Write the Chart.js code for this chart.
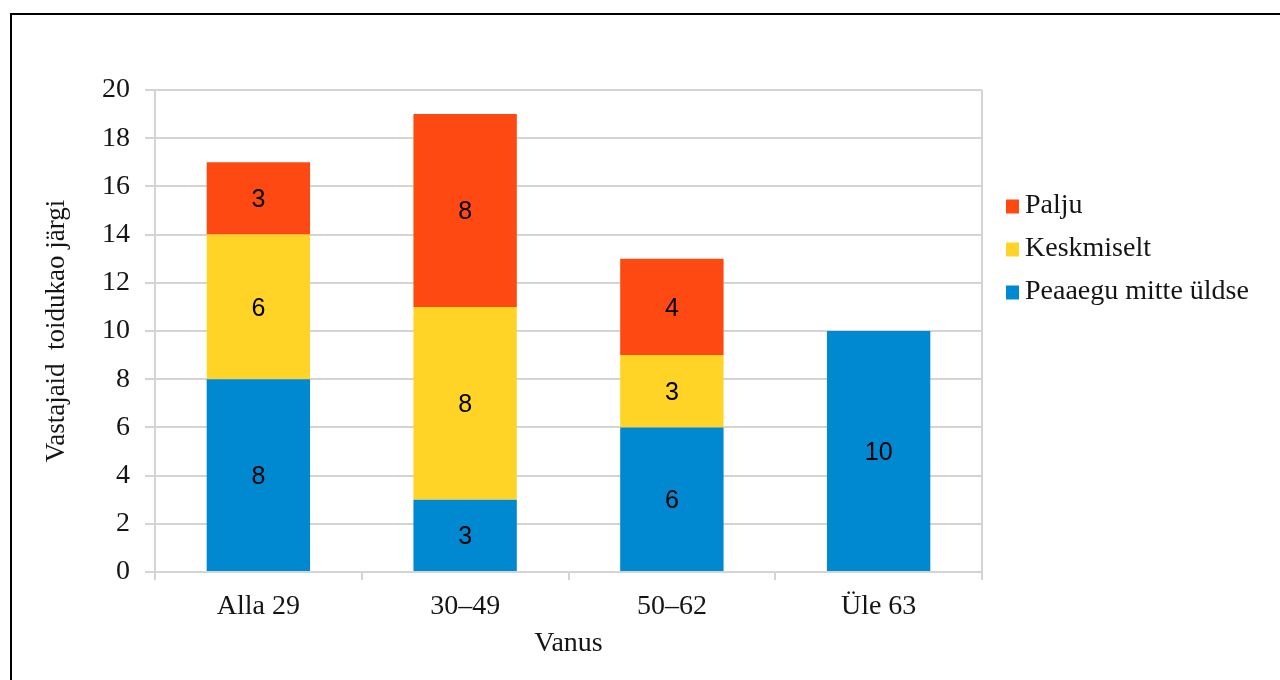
<!DOCTYPE html>
<html>
<head>
<meta charset="utf-8">
<script src="https://cdn.jsdelivr.net/npm/chart.js@4/dist/chart.umd.min.js"></script>
<style>
  html, body { margin: 0; padding: 0; background: #fff; }
  #wrap { position: relative; width: 1280px; height: 680px; overflow: hidden; }
  #frame { position: absolute; left: 10px; top: 13px; width: 1400px; height: 800px;
           border-top: 2px solid #000; border-left: 2px solid #000; pointer-events: none; }
  #c { position: absolute; left: 0; top: 0; }
</style>
</head>
<body>
<div id="wrap">
  <canvas id="c" width="1280" height="680"></canvas>
  <div id="frame"></div>
</div>
<script>
// Age groups and respondent counts per answer
const categories = ['Alla 29', '30–49', '50–62', 'Üle 63'];
const seriesNames = ['Peaaegu mitte üldse', 'Keskmiselt', 'Palju'];
const peaaeguMitteUldse = [8, 3, 6, 10];
const keskmiselt = [6, 8, 3, 0];
const palju = [3, 8, 4, 0];
const seriesColors = ['#0088D1', '#FFD426', '#FF4912'];
const yMax = 20;
const yStep = 2;
const yTitle = 'Vastajaid  toidukao järgi';
const xTitle = 'Vanus';

const SERIF = "'Liberation Serif', 'Times New Roman', serif";
const SANS = "'Liberation Sans', Arial, sans-serif";
const GRID = '#D4D4D4';
const TEXT = '#151515';

// Right-hand edge of the plot area
const plotEdge = {
  id: 'plotEdge',
  beforeDatasetsDraw(chart) {
    const { ctx, chartArea: a } = chart;
    ctx.save();
    ctx.strokeStyle = GRID;
    ctx.lineWidth = 2;
    ctx.beginPath();
    ctx.moveTo(a.right, a.top);
    ctx.lineTo(a.right, a.bottom);
    ctx.stroke();
    ctx.restore();
  }
};

// Value written in the middle of each stacked segment
const segmentValues = {
  id: 'segmentValues',
  afterDatasetsDraw(chart) {
    const { ctx } = chart;
    ctx.save();
    ctx.font = '25px ' + SANS;
    ctx.fillStyle = '#000';
    ctx.textAlign = 'center';
    ctx.textBaseline = 'middle';
    chart.data.datasets.forEach((ds, di) => {
      const meta = chart.getDatasetMeta(di);
      meta.data.forEach((bar, i) => {
        const v = ds.data[i];
        if (!v) return;
        const { x, y, base } = bar.getProps(['x', 'y', 'base'], true);
        ctx.fillText(String(v), x, (y + base) / 2 + 2);
      });
    });
    ctx.restore();
  }
};

// Legend to the right of the plot, top series first
const sideLegend = {
  id: 'sideLegend',
  afterDraw(chart) {
    const { ctx } = chart;
    const x0 = 1006, y0 = 206, step = 43, box = 13;
    ctx.save();
    ctx.font = '28px ' + SERIF;
    ctx.textBaseline = 'middle';
    ctx.textAlign = 'left';
    const items = chart.data.datasets.slice().reverse();
    items.forEach((ds, k) => {
      const cy = y0 + k * step;
      ctx.fillStyle = ds.backgroundColor;
      ctx.fillRect(x0, cy - box / 2, box, box + 1);
      ctx.fillStyle = TEXT;
      ctx.fillText(ds.label, x0 + 19, cy);
    });
    ctx.restore();
  }
};

const seriesData = [peaaeguMitteUldse, keskmiselt, palju];

new Chart(document.getElementById('c'), {
  type: 'bar',
  data: {
    labels: categories,
    datasets: seriesNames.map((name, i) => ({
      label: name,
      data: seriesData[i],
      backgroundColor: seriesColors[i],
      borderWidth: 0,
      categoryPercentage: 1.0,
      barPercentage: 0.5
    }))
  },
  options: {
    responsive: false,
    animation: false,
    devicePixelRatio: 1,
    layout: { padding: { top: 90, right: 298, bottom: 0, left: 0 } },
    plugins: { legend: { display: false }, tooltip: { enabled: false } },
    scales: {
      x: {
        stacked: true,
        afterFit(scale) { scale.height = 108; },
        grid: { display: true, drawOnChartArea: false, drawTicks: true, tickLength: 8, color: GRID, lineWidth: 2, offset: true },
        border: { display: true, color: GRID, width: 2 },
        ticks: { color: TEXT, font: { family: SERIF, size: 28 }, padding: 10 },
        title: { display: true, text: xTitle, color: TEXT, font: { family: SERIF, size: 28 }, padding: { top: 0, bottom: 20 } }
      },
      y: {
        stacked: true,
        min: 0,
        max: yMax,
        afterFit(scale) { scale.width = 155; },
        grid: { color: GRID, lineWidth: 2, tickLength: 10 },
        border: { display: true, color: GRID, width: 2 },
        ticks: { stepSize: yStep, color: TEXT, font: { family: SERIF, size: 28 }, padding: 15 },
        title: { display: true, text: yTitle, color: TEXT, font: { family: SERIF, size: 27 }, padding: { top: 41, bottom: 0 } }
      }
    }
  },
  plugins: [plotEdge, segmentValues, sideLegend]
});
</script>
</body>
</html>
